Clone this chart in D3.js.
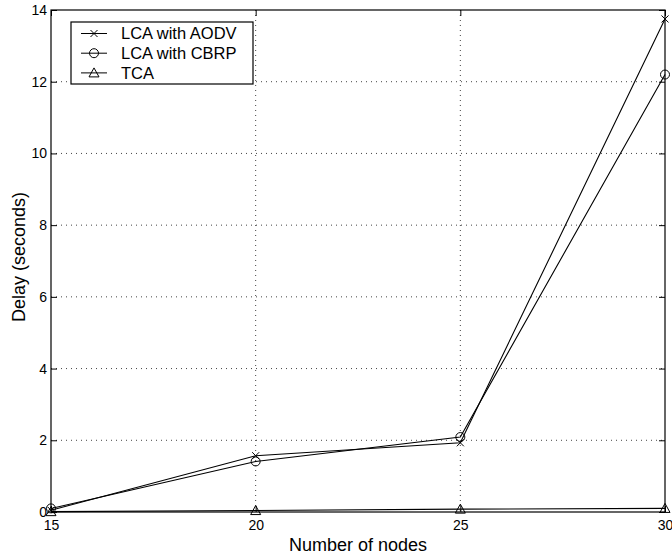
<!DOCTYPE html>
<html>
<head>
<meta charset="utf-8">
<script src="https://cdn.jsdelivr.net/npm/d3@7"></script>
<style>
  body { margin: 0; background: #fff; }
  svg { display: block; font-family: "Liberation Sans", Arial, Helvetica, sans-serif; }
</style>
</head>
<body>
<svg width="672" height="559"></svg>
<script>
const nodes = [15, 20, 25, 30];
const aodv = [0.05, 1.57, 1.93, 13.75];
const cbrp = [0.1, 1.41, 2.09, 12.2];
const tca = [0.01, 0.04, 0.08, 0.1];
const yTicks = [0, 2, 4, 6, 8, 10, 12, 14];

const series = [
  { name: "LCA with AODV", values: aodv, marker: "x" },
  { name: "LCA with CBRP", values: cbrp, marker: "o" },
  { name: "TCA", values: tca, marker: "tri" }
];

const svg = d3.select("svg");
const margin = { top: 10, right: 7, bottom: 47, left: 51 };
const width = +svg.attr("width");
const height = +svg.attr("height");
const innerWidth = width - margin.left - margin.right;
const innerHeight = height - margin.top - margin.bottom;

const x = d3.scaleLinear().domain([15, 30]).range([0, innerWidth]);
const y = d3.scaleLinear().domain([0, 14]).range([innerHeight, 0]);

const g = svg.append("g")
  .attr("transform", `translate(${margin.left},${margin.top})`);

// grid
g.append("g")
  .selectAll("line")
  .data(nodes.slice(1, -1))
  .join("line")
  .attr("x1", d => x(d)).attr("x2", d => x(d))
  .attr("y1", 0).attr("y2", innerHeight)
  .attr("stroke", "#444").attr("stroke-width", 1)
  .attr("stroke-dasharray", "1,4");

g.append("g")
  .selectAll("line")
  .data(yTicks.slice(1, -1))
  .join("line")
  .attr("x1", 0).attr("x2", innerWidth)
  .attr("y1", d => y(d)).attr("y2", d => y(d))
  .attr("stroke", "#444").attr("stroke-width", 1)
  .attr("stroke-dasharray", "1,4");

// axes, ticks pointing inward on all sides
const tickLen = 6;
const axisFont = "14px";

g.append("g")
  .attr("transform", `translate(0,${innerHeight})`)
  .call(d3.axisBottom(x).tickValues(nodes).tickSize(-tickLen).tickPadding(8))
  .call(a => a.select(".domain").remove())
  .call(a => a.selectAll("text").style("font-size", axisFont).attr("fill", "#000"));

g.append("g")
  .call(d3.axisTop(x).tickValues(nodes).tickSize(-tickLen).tickFormat(""))
  .call(a => a.select(".domain").remove());

g.append("g")
  .call(d3.axisLeft(y).tickValues(yTicks).tickSize(-tickLen).tickPadding(4))
  .call(a => a.select(".domain").remove())
  .call(a => a.selectAll("text").style("font-size", axisFont).attr("fill", "#000"));

g.append("g")
  .attr("transform", `translate(${innerWidth},0)`)
  .call(d3.axisRight(y).tickValues(yTicks).tickSize(-tickLen).tickFormat(""))
  .call(a => a.select(".domain").remove());

g.append("rect")
  .attr("width", innerWidth).attr("height", innerHeight)
  .attr("fill", "none").attr("stroke", "#000").attr("stroke-width", 1.2);

// markers
function drawMarker(sel, type, cx, cy) {
  if (type === "x") {
    const s = 3.5;
    sel.append("path")
      .attr("d", `M${cx - s},${cy - s}L${cx + s},${cy + s}M${cx - s},${cy + s}L${cx + s},${cy - s}`)
      .attr("stroke", "#000").attr("fill", "none");
  } else if (type === "o") {
    sel.append("circle")
      .attr("cx", cx).attr("cy", cy).attr("r", 4.5)
      .attr("stroke", "#000").attr("fill", "none");
  } else {
    const s = 5;
    sel.append("path")
      .attr("d", `M${cx},${cy - s}L${cx + s},${cy + s * 0.8}L${cx - s},${cy + s * 0.8}Z`)
      .attr("stroke", "#000").attr("fill", "none");
  }
}

const line = d3.line()
  .x((d, i) => x(nodes[i]))
  .y(d => y(d));

series.forEach(s => {
  g.append("path")
    .datum(s.values)
    .attr("d", line)
    .attr("fill", "none")
    .attr("stroke", "#000")
    .attr("stroke-width", 1.1);
  const mg = g.append("g");
  s.values.forEach((v, i) => drawMarker(mg, s.marker, x(nodes[i]), y(v)));
});

// labels
svg.append("text")
  .attr("x", margin.left + innerWidth / 2)
  .attr("y", height - 8)
  .attr("text-anchor", "middle")
  .style("font-size", "18px")
  .text("Number of nodes");

svg.append("text")
  .attr("transform", "rotate(-90)")
  .attr("x", -(margin.top + innerHeight / 2) + 4)
  .attr("y", 25)
  .attr("text-anchor", "middle")
  .style("font-size", "18px")
  .text("Delay (seconds)");

// legend
const legend = svg.append("g").attr("transform", "translate(71,22)");
legend.append("rect")
  .attr("width", 182).attr("height", 62)
  .attr("fill", "#fff").attr("stroke", "#000").attr("stroke-width", 1.2);

series.forEach((s, i) => {
  const ly = 11.5 + i * 19.7;
  legend.append("line")
    .attr("x1", 10).attr("x2", 36)
    .attr("y1", ly).attr("y2", ly)
    .attr("stroke", "#000");
  drawMarker(legend, s.marker, 23, ly);
  legend.append("text")
    .attr("x", 50)
    .attr("y", ly)
    .attr("dy", "0.36em")
    .style("font-size", "16.5px")
    .text(s.name);
});
</script>
</body>
</html>
